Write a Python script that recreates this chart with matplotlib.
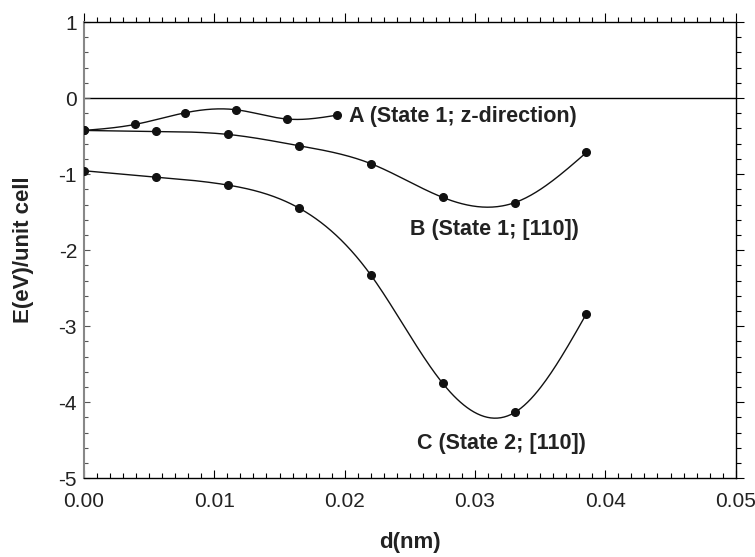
import numpy as np
import matplotlib
matplotlib.use("Agg")
import matplotlib.pyplot as plt
from matplotlib.ticker import MultipleLocator, FormatStrFormatter

plt.rcParams['font.family'] = ['Liberation Sans', 'DejaVu Sans']

# Data
xA = [0.0, 0.00391, 0.00778, 0.01167, 0.01558, 0.01944]
yA = [-0.426, -0.347, -0.193, -0.154, -0.276, -0.224]
xB = [0.0, 0.00553, 0.01103, 0.0165, 0.02203, 0.02753, 0.03305, 0.03855]
yB = [-0.426, -0.439, -0.478, -0.627, -0.864, -1.307, -1.375, -0.715]
xC = [0.0, 0.00553, 0.01103, 0.0165, 0.02203, 0.02753, 0.03305, 0.03855]
yC = [-0.956, -1.039, -1.144, -1.447, -2.333, -3.753, -4.134, -2.836]
labels = ["A (State 1; z-direction)", "B (State 1; [110])", "C (State 2; [110])"]
label_pos = [(0.0203, -0.24), (0.0250, -1.73), (0.02555, -4.54)]
xticks = [0.0, 0.01, 0.02, 0.03, 0.04, 0.05]
yticks = [1, 0, -1, -2, -3, -4, -5]


def natural_spline(x, y, npts=300):
    x = np.asarray(x, float)
    y = np.asarray(y, float)
    n = len(x)
    h = np.diff(x)
    A = np.zeros((n, n))
    r = np.zeros(n)
    A[0, 0] = 1
    A[-1, -1] = 1
    for i in range(1, n - 1):
        A[i, i - 1] = h[i - 1]
        A[i, i] = 2 * (h[i - 1] + h[i])
        A[i, i + 1] = h[i]
        r[i] = 6 * ((y[i + 1] - y[i]) / h[i] - (y[i] - y[i - 1]) / h[i - 1])
    M = np.linalg.solve(A, r)
    xs = np.linspace(x[0], x[-1], npts)
    idx = np.clip(np.searchsorted(x, xs) - 1, 0, n - 2)
    x0 = x[idx]; x1 = x[idx + 1]; hh = x1 - x0
    t0 = x1 - xs; t1 = xs - x0
    ys = (M[idx] * t0 ** 3 / (6 * hh) + M[idx + 1] * t1 ** 3 / (6 * hh)
          + (y[idx] / hh - M[idx] * hh / 6) * t0
          + (y[idx + 1] / hh - M[idx + 1] * hh / 6) * t1)
    return xs, ys


fig = plt.figure(figsize=(7.55, 5.57), dpi=100)
ax = fig.add_axes([0.1113, 0.1413, 0.9744 - 0.1113, 0.9605 - 0.1413])

ax.axhline(0, color='black', lw=1.0, zorder=1)

for xd, yd in [(xA, yA), (xB, yB), (xC, yC)]:
    xs, ys = natural_spline(xd, yd)
    ax.plot(xs, ys, color='#111111', lw=1.0, zorder=2)
    ax.plot(xd, yd, 'o', color='#111111', ms=5.5, zorder=3)

for txt, (lx, ly) in zip(labels, label_pos):
    ax.text(lx, ly, txt, fontsize=15.5, fontweight='bold', color='#222222',
            ha='left', va='center')

ax.set_xlim(0, 0.05)
ax.set_ylim(-5, 1)
ax.set_xticks(xticks)
ax.set_yticks(yticks)
ax.xaxis.set_major_formatter(FormatStrFormatter('%.2f'))
ax.yaxis.set_major_formatter(FormatStrFormatter('%d'))
ax.xaxis.set_minor_locator(MultipleLocator(0.001))
ax.yaxis.set_minor_locator(MultipleLocator(0.2))

ax.tick_params(axis='both', which='both', direction='in', labelsize=15,
               labelcolor='#222222', top=False, right=False)
ax.tick_params(axis='x', which='major', length=6, width=0.8, pad=10)
ax.tick_params(axis='x', which='minor', length=3.5, width=0.8)
ax.tick_params(axis='y', which='major', length=4.5, width=0.8, pad=5, color='#555555')
ax.tick_params(axis='y', which='minor', length=3, width=0.8, color='#555555')

for s in ['top', 'right', 'bottom']:
    ax.spines[s].set_linewidth(1.0)
    ax.spines[s].set_color('black')
ax.spines['left'].set_color('#888888')
ax.spines['left'].set_linewidth(1.5)

# top and right ticks pointing outward
sx = ax.secondary_xaxis('top')
sx.set_xticks(xticks)
sx.xaxis.set_minor_locator(MultipleLocator(0.001))
sx.tick_params(axis='x', which='both', direction='out', labeltop=False)
sx.tick_params(axis='x', which='major', length=6.5, width=0.8)
sx.tick_params(axis='x', which='minor', length=3.5, width=0.8)
sx.spines['top'].set_visible(False)

sy = ax.secondary_yaxis('right')
sy.set_yticks(yticks)
sy.yaxis.set_minor_locator(MultipleLocator(0.2))
sy.tick_params(axis='y', which='both', direction='out', labelright=False)
sy.tick_params(axis='y', which='major', length=6, width=0.8)
sy.tick_params(axis='y', which='minor', length=3.5, width=0.8)
sy.spines['right'].set_visible(False)

ax.set_xlabel('d(nm)', fontsize=16, fontweight='bold', color='#222222', labelpad=15)
ax.set_ylabel('E(eV)/unit cell', fontsize=16, fontweight='bold', color='#222222', labelpad=18)

fig.savefig('out.png', dpi=100)
